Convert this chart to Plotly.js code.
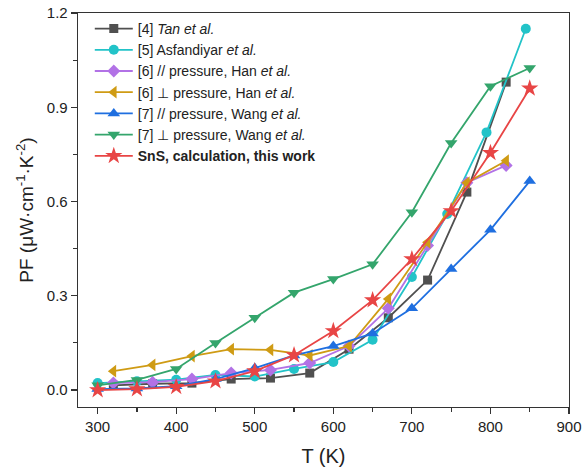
<!DOCTYPE html>
<html><head><meta charset="utf-8">
<script src="https://cdn.plot.ly/plotly-3.0.1.min.js"></script>
<style>html,body{margin:0;padding:0;background:#fff}</style>
</head><body><div id="chart" style="width:582px;height:471px"></div>
<script>
const tanT = [320, 370, 420, 470, 520, 570, 620, 670, 720, 770, 820];
const tanPF = [0.015, 0.02, 0.022, 0.035, 0.038, 0.054, 0.13, 0.23, 0.35, 0.63, 0.98];
const asfT = [300, 350, 400, 450, 500, 550, 600, 650, 700, 745, 795, 845];
const asfPF = [0.022, 0.028, 0.033, 0.048, 0.043, 0.067, 0.089, 0.16, 0.36, 0.56, 0.82, 1.15];
const hanParT = [320, 370, 420, 470, 520, 570, 620, 670, 720, 770, 820];
const hanParPF = [0.022, 0.025, 0.035, 0.054, 0.064, 0.086, 0.14, 0.26, 0.46, 0.66, 0.715];
const hanPerpT = [320, 370, 420, 470, 520, 570, 620, 670, 720, 770, 820];
const hanPerpPF = [0.06, 0.08, 0.108, 0.13, 0.128, 0.11, 0.14, 0.29, 0.47, 0.66, 0.73];
const wangParT = [300, 350, 400, 450, 500, 550, 600, 650, 700, 750, 800, 850];
const wangParPF = [0.003, 0.005, 0.012, 0.035, 0.07, 0.11, 0.14, 0.18, 0.26, 0.385, 0.51, 0.665];
const wangPerpT = [300, 350, 400, 450, 500, 550, 600, 650, 700, 750, 800, 850];
const wangPerpPF = [0.015, 0.032, 0.067, 0.15, 0.23, 0.31, 0.353, 0.40, 0.566, 0.786, 0.967, 1.025];
const snsT = [300, 350, 400, 450, 500, 550, 600, 650, 700, 750, 800, 850];
const snsPF = [0.0, 0.003, 0.01, 0.028, 0.06, 0.111, 0.188, 0.286, 0.417, 0.57, 0.755, 0.96];

const names = [
  '[4] <i>Tan et al.</i>',
  '[5] Asfandiyar <i>et al.</i>',
  '[6] // pressure, Han <i>et al.</i>',
  '[6] ⊥ pressure, Han <i>et al.</i>',
  '[7] // pressure, Wang <i>et al.</i>',
  '[7] ⊥ pressure, Wang <i>et al.</i>',
  '<b>SnS, calculation, this work</b>'
];
const colors = ['#505050', '#22C3C8', '#B272E6', '#CF9B14', '#1F6FE0', '#34A56C', '#E84545'];
const symbols = ['square', 'circle', 'diamond', 'triangle-left', 'triangle-up', 'triangle-down', 'star'];
const sizes = [9, 10, 10, 11, 11, 11, 13];
const xs = [tanT, asfT, hanParT, hanPerpT, wangParT, wangPerpT, snsT];
const ys = [tanPF, asfPF, hanParPF, hanPerpPF, wangParPF, wangPerpPF, snsPF];

const traces = xs.map((x, i) => ({
  x: x, y: ys[i], name: names[i], type: 'scatter', mode: 'lines+markers',
  line: {color: colors[i], width: 1.8},
  marker: {color: colors[i], symbol: symbols[i], size: sizes[i], line: {width: 0}}
}));

const fam = 'Arial, "Liberation Sans", sans-serif';
const axisCommon = {
  showline: true, linecolor: '#333', linewidth: 1.3, mirror: true,
  ticks: 'outside', ticklen: 6, tickwidth: 1.2, tickcolor: '#333',
  showgrid: false, zeroline: false,
  tickfont: {family: fam, size: 15, color: '#222'}
};
const layout = {
  width: 582, height: 471,
  margin: {l: 78, r: 13, t: 13, b: 64},
  paper_bgcolor: '#fff', plot_bgcolor: '#fff',
  font: {family: fam, color: '#222'},
  showlegend: true,
  legend: {x: 0.024, y: 1.0, xanchor: 'left', yanchor: 'top', bgcolor: 'rgba(0,0,0,0)',
    font: {family: fam, size: 14, color: '#222'}, itemwidth: 38, tracegroupgap: 0},
  xaxis: Object.assign({}, axisCommon, {
    range: [275, 900], tickvals: [300, 400, 500, 600, 700, 800, 900],
    minor: {tickvals: [350, 450, 550, 650, 750, 850], ticks: 'outside', ticklen: 4, tickcolor: '#333', showgrid: false},
    title: {text: 'T (K)', font: {family: fam, size: 20, color: '#222'}, standoff: 14}
  }),
  yaxis: Object.assign({}, axisCommon, {
    range: [-0.054, 1.2], tickvals: [0, 0.3, 0.6, 0.9, 1.2], ticktext: ['0.0', '0.3', '0.6', '0.9', '1.2'],
    minor: {tickvals: [0.15, 0.45, 0.75, 1.05], ticks: 'outside', ticklen: 4, tickcolor: '#333', showgrid: false},
    title: {text: 'PF (μW·cm<sup>-1</sup>·K<sup>-2</sup>)', font: {family: fam, size: 19, color: '#222'}, standoff: 8}
  })
};
Plotly.newPlot('chart', traces, layout, {displayModeBar: false, staticPlot: true});
</script></body></html>
